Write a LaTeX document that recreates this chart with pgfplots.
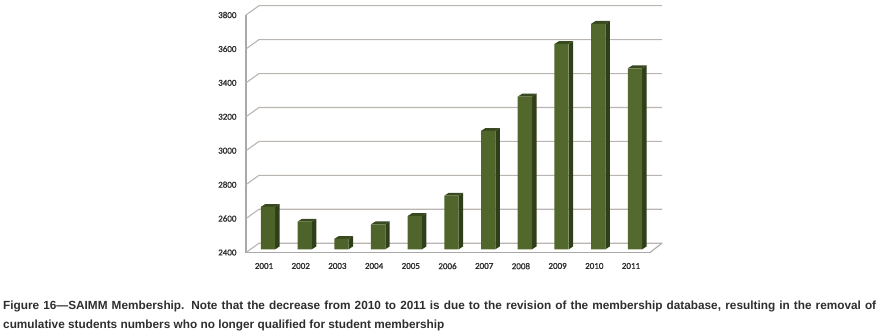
\documentclass[border=0pt]{standalone}
\usepackage{pgfplots}
\usepackage{fontspec}
\pgfplotsset{compat=1.18}
\setmainfont{Liberation Sans}
\newfontfamily\tickfont{Carlito}[FakeBold=1.3]
\definecolor{front}{HTML}{54692D}
\definecolor{frontL}{HTML}{4C6229}
\definecolor{side}{HTML}{2F3F19}
\definecolor{topc}{HTML}{3A4A20}
\definecolor{gridc}{HTML}{BBB5B2}
\definecolor{axc}{HTML}{A9A9A9}
\definecolor{txt}{HTML}{2E2E2E}
% one bar's side and top faces: x position, value
\newcommand{\barfaces}[2]{%
  \pgfmathsetmacro{\xa}{#1+0.195}\pgfmathsetmacro{\xb}{#1+0.317}%
  \pgfmathsetmacro{\xc}{#1-0.195}\pgfmathsetmacro{\xd}{#1-0.073}%
  \pgfmathsetmacro{\ytop}{#2+17}%
  \pgfmathsetmacro{\ybase}{2400+17}%
  \addplot[draw=none,fill=side,forget plot,yshift=3.2pt] coordinates {(\xa,2400) (\xa,#2) (\xb,\ytop) (\xb,\ybase)} --cycle;
  \addplot[draw=none,fill=topc,forget plot,yshift=3.2pt] coordinates {(\xc,#2) (\xa,#2) (\xb,\ytop) (\xd,\ytop)} --cycle;
}
\begin{document}
\begin{tikzpicture}[x=1pt,y=1pt]
\useasboundingbox (0,0) rectangle (879,335);
\begin{axis}[
  at={(246pt,82.5pt)},anchor=south west,
  scale only axis,width=404pt,height=237.5pt,
  xmin=-0.5995,xmax=10.409,ymin=2400,ymax=3800,
  clip=false,
  axis x line=bottom,axis y line=left,
  axis line style={-,draw=axc,line width=1.3pt},
  xtick={0,1,2,3,4,5,6,7,8,9,10},
  xticklabels={2001,2002,2003,2004,2005,2006,2007,2008,2009,2010,2011},
  ytick={2400,2600,2800,3000,3200,3400,3600,3800},
  major tick length=0pt,
  /pgf/number format/assume math mode=true,
  /pgf/number format/1000 sep={},
  tick label style={font=\tickfont\fontsize{9}{9}\selectfont,text=txt},
  xticklabel style={xshift=-4pt,yshift=-7pt},
  yticklabel style={xshift=-6pt},
]
\pgfplotsinvokeforeach{2400,2600,2800,3000,3200,3400,3600,3800}{
  \draw[gridc,line width=1.1pt] (axis cs:-0.5995,#1) -- ++(13pt,9.3pt) -- ++(403pt,0pt);
}
\draw[axc,line width=1.1pt] (axis cs:10.409,2400) -- ++(12pt,9.3pt);
\barfaces{0}{2650}
\barfaces{1}{2563}
\barfaces{2}{2461}
\barfaces{3}{2547}
\barfaces{4}{2596}
\barfaces{5}{2716}
\barfaces{6}{3098}
\barfaces{7}{3300}
\barfaces{8}{3610}
\barfaces{9}{3729}
\barfaces{10}{3467}
\addplot[ybar,bar width=14.3pt,bar shift=0pt,draw=none,left color=frontL,right color=front,yshift=3.2pt] coordinates {
(0,2650) (1,2563) (2,2461) (3,2547) (4,2596) (5,2716) (6,3098) (7,3300) (8,3610) (9,3729) (10,3467)};
\end{axis}
\node[anchor=base west,inner sep=0,text=txt,font=\bfseries\fontsize{11.8}{12}\selectfont] at (3,25) {\makebox[873pt][s]{Figure 16—SAIMM Membership. Note that the decrease from 2010 to 2011 is due to the revision of the membership database, resulting in the removal of}};
\node[anchor=base west,inner sep=0,text=txt,font=\bfseries\fontsize{11.8}{12}\selectfont] at (3,6) {cumulative students numbers who no longer qualified for student membership};
\end{tikzpicture}
\end{document}
